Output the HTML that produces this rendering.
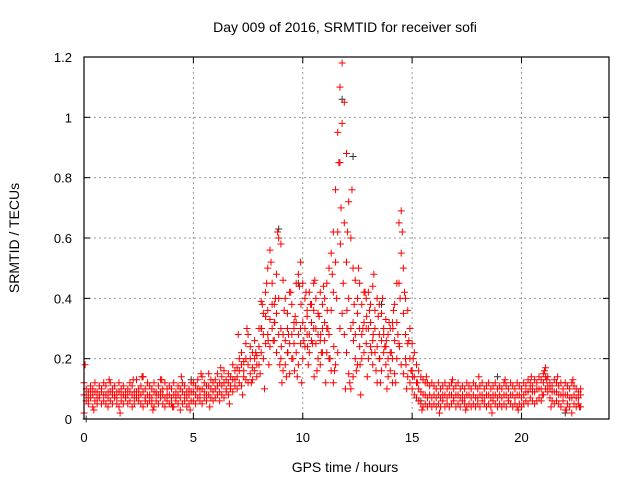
<!DOCTYPE html>
<html><head><meta charset="utf-8"><style>
html,body{margin:0;padding:0;background:#fff}
svg{display:block;font-family:"Liberation Sans",sans-serif}
</style></head><body>
<svg id="chart" width="640" height="480">
<text x="345" y="32" font-size="14" text-anchor="middle">Day 009 of 2016, SRMTID for receiver sofi</text>
<text x="345" y="472" font-size="14" text-anchor="middle">GPS time / hours</text>
<text transform="translate(19,238) rotate(-90)" font-size="14" text-anchor="middle">SRMTID / TECUs</text>
<g id="grid"></g><g id="ticks"></g><g id="marks"></g>
<rect x="84" y="57" width="525" height="362" fill="none" stroke="#000" stroke-width="1.2"/>
</svg>
<script>
const xTicks=[0,5,10,15,20];
const yTicks=[0,0.2,0.4,0.6,0.8,1,1.2];
const yTickLabels=["0","0.2","0.4","0.6","0.8","1","1.2"];
const tStep=0.1;
const upperValues=[
0.12,0.10,0.09,0.11,0.10,0.12,0.09,0.11,0.10,0.12,
0.11,0.09,0.12,0.10,0.11,0.09,0.12,0.10,0.11,0.09,
0.10,0.12,0.11,0.09,0.13,0.10,0.11,0.14,0.10,0.12,
0.11,0.10,0.12,0.09,0.11,0.13,0.10,0.12,0.10,0.11,
0.10,0.12,0.09,0.11,0.10,0.12,0.11,0.09,0.10,0.12,
0.12,0.11,0.13,0.10,0.14,0.12,0.11,0.15,0.13,0.12,
0.13,0.15,0.12,0.14,0.16,0.13,0.15,0.14,0.18,0.16,
0.17,0.20,0.22,0.19,0.25,0.28,0.24,0.22,0.26,0.21,
0.30,0.39,0.35,0.42,0.50,0.56,0.45,0.38,0.48,0.60,
0.58,0.46,0.40,0.35,0.42,0.38,0.32,0.45,0.48,0.52,
0.45,0.40,0.36,0.42,0.38,0.45,0.40,0.35,0.42,0.38,
0.40,0.45,0.50,0.55,0.62,0.76,0.95,1.10,1.18,1.05,
0.88,0.72,0.60,0.50,0.46,0.40,0.45,0.38,0.42,0.40,
0.42,0.38,0.44,0.36,0.40,0.38,0.35,0.30,0.33,0.28,
0.30,0.32,0.38,0.45,0.65,0.69,0.50,0.40,0.36,0.30,
0.25,0.22,0.18,0.16,0.14,0.13,0.12,0.12,0.11,0.12,
0.11,0.10,0.12,0.10,0.11,0.12,0.10,0.11,0.12,0.10,
0.11,0.12,0.10,0.11,0.10,0.12,0.11,0.10,0.12,0.11,
0.10,0.11,0.12,0.10,0.11,0.12,0.10,0.11,0.12,0.10,
0.11,0.10,0.12,0.11,0.10,0.12,0.11,0.10,0.12,0.11,
0.10,0.12,0.11,0.13,0.12,0.11,0.13,0.12,0.14,0.13,
0.15,0.17,0.14,0.12,0.11,0.13,0.12,0.11,0.12,0.10,
0.12,0.11,0.10,0.12,0.11,0.10,0.09,0.10];
const middleValues=[
0.08,0.08,0.07,0.09,0.08,0.09,0.07,0.08,0.09,0.08,
0.08,0.07,0.09,0.08,0.08,0.07,0.09,0.08,0.08,0.07,
0.08,0.09,0.08,0.07,0.09,0.08,0.08,0.09,0.07,0.08,
0.08,0.07,0.09,0.08,0.08,0.09,0.08,0.07,0.08,0.08,
0.07,0.08,0.07,0.08,0.07,0.09,0.08,0.07,0.08,0.09,
0.09,0.08,0.10,0.08,0.10,0.09,0.08,0.11,0.10,0.09,
0.10,0.11,0.09,0.11,0.12,0.10,0.12,0.11,0.13,0.13,
0.14,0.16,0.18,0.16,0.20,0.18,0.20,0.17,0.20,0.18,
0.24,0.30,0.28,0.34,0.36,0.33,0.38,0.32,0.35,0.40,
0.30,0.28,0.26,0.30,0.25,0.28,0.30,0.32,0.28,0.30,
0.32,0.30,0.34,0.28,0.32,0.36,0.30,0.28,0.26,0.30,
0.32,0.30,0.28,0.36,0.42,0.52,0.62,0.85,0.98,0.65,
0.52,0.40,0.30,0.32,0.28,0.35,0.30,0.28,0.32,0.30,
0.30,0.32,0.26,0.30,0.24,0.28,0.26,0.28,0.24,0.20,
0.22,0.20,0.26,0.32,0.45,0.55,0.35,0.28,0.25,0.20,
0.16,0.14,0.12,0.10,0.09,0.08,0.08,0.07,0.08,0.07,
0.08,0.07,0.08,0.07,0.08,0.08,0.07,0.08,0.08,0.07,
0.08,0.08,0.07,0.08,0.07,0.08,0.08,0.07,0.08,0.07,
0.07,0.08,0.08,0.07,0.08,0.08,0.07,0.08,0.08,0.07,
0.08,0.07,0.08,0.08,0.07,0.08,0.08,0.07,0.08,0.08,
0.07,0.08,0.09,0.09,0.10,0.09,0.09,0.10,0.10,0.10,
0.12,0.14,0.11,0.10,0.09,0.09,0.09,0.08,0.08,0.08,
0.08,0.08,0.07,0.07,0.08,0.07,0.07,0.08];
const lowerValues=[
0.02,0.06,0.05,0.07,0.04,0.06,0.05,0.07,0.05,0.06,
0.05,0.04,0.06,0.05,0.07,0.05,0.04,0.06,0.05,0.07,
0.05,0.06,0.04,0.05,0.07,0.06,0.05,0.04,0.06,0.05,
0.06,0.05,0.04,0.06,0.05,0.07,0.05,0.04,0.06,0.05,
0.05,0.04,0.06,0.05,0.03,0.05,0.06,0.04,0.05,0.06,
0.06,0.05,0.07,0.06,0.05,0.07,0.06,0.08,0.07,0.06,
0.07,0.08,0.06,0.08,0.07,0.09,0.08,0.10,0.09,0.11,
0.10,0.12,0.11,0.14,0.13,0.12,0.15,0.13,0.16,0.14,
0.18,0.22,0.20,0.25,0.28,0.24,0.30,0.26,0.22,0.28,
0.20,0.16,0.18,0.22,0.15,0.20,0.25,0.22,0.18,0.25,
0.20,0.24,0.28,0.22,0.26,0.30,0.25,0.20,0.18,0.22,
0.26,0.22,0.20,0.16,0.12,0.18,0.22,0.30,0.35,0.28,
0.22,0.15,0.10,0.14,0.20,0.18,0.24,0.20,0.22,0.25,
0.20,0.24,0.18,0.22,0.12,0.20,0.16,0.22,0.18,0.14,
0.16,0.12,0.15,0.20,0.25,0.18,0.15,0.20,0.14,0.12,
0.10,0.08,0.07,0.06,0.05,0.04,0.05,0.04,0.05,0.04,
0.05,0.04,0.05,0.04,0.06,0.04,0.05,0.04,0.05,0.06,
0.04,0.05,0.04,0.06,0.05,0.04,0.05,0.04,0.05,0.04,
0.05,0.04,0.06,0.05,0.04,0.05,0.04,0.06,0.05,0.04,
0.05,0.04,0.05,0.04,0.06,0.05,0.04,0.05,0.04,0.05,
0.04,0.05,0.06,0.05,0.07,0.06,0.05,0.06,0.07,0.06,
0.08,0.10,0.09,0.07,0.06,0.05,0.06,0.05,0.04,0.06,
0.03,0.05,0.04,0.02,0.05,0.04,0.05,0.04];
const scatterTimes=[
0.05,0.45,1.15,1.65,2.25,2.65,3.15,3.55,4.05,4.45,4.85,5.35,5.75,6.25,6.65,7.05,7.25,7.45,7.65,7.85,
8.05,8.15,8.25,8.35,8.45,8.55,8.65,8.75,8.85,8.95,9.05,9.15,9.25,9.35,9.45,9.55,9.65,9.75,9.85,9.95,
10.05,10.15,10.25,10.35,10.45,10.55,10.65,10.75,10.85,10.95,11.05,11.15,11.25,11.35,11.45,11.55,11.65,11.75,11.85,11.95,
12.05,12.15,12.25,12.35,12.45,12.55,12.65,12.75,12.85,12.95,13.05,13.15,13.25,13.35,13.45,13.55,13.65,13.75,13.85,13.95,
14.05,14.15,14.25,14.35,14.45,14.55,14.65,14.75,14.85,14.95,15.05,15.25,15.45,15.65,16.25,16.85,17.45,18.05,18.65,19.25,
19.85,20.45,20.95,21.05,21.15,21.35,21.65,22.05,22.35,22.65,
8.12,8.42,8.72,9.02,9.32,9.62,9.92,10.22,10.52,10.82,11.12,11.42,11.72,12.02,12.32,12.62,12.92,13.22,13.52,13.82,14.12,14.42,14.72,15.02];
const scatterValues=[
0.18,0.03,0.13,0.02,0.13,0.14,0.03,0.13,0.04,0.14,0.03,0.15,0.04,0.17,0.05,0.28,0.08,0.30,0.12,0.22,
0.15,0.38,0.10,0.45,0.18,0.52,0.26,0.40,0.62,0.18,0.12,0.36,0.14,0.28,0.42,0.20,0.34,0.14,0.44,0.12,
0.26,0.42,0.18,0.38,0.25,0.46,0.16,0.34,0.22,0.44,0.12,0.30,0.20,0.48,0.16,0.40,0.85,0.70,0.45,0.10,
0.62,0.12,0.76,0.38,0.16,0.50,0.08,0.30,0.42,0.14,0.36,0.22,0.48,0.16,0.34,0.12,0.40,0.24,0.10,0.32,
0.22,0.36,0.12,0.28,0.40,0.62,0.42,0.10,0.26,0.16,0.20,0.12,0.03,0.14,0.02,0.13,0.03,0.14,0.02,0.13,
0.03,0.14,0.08,0.16,0.13,0.04,0.14,0.03,0.13,0.04,
0.30,0.26,0.32,0.24,0.22,0.16,0.38,0.24,0.14,0.28,0.36,0.24,0.58,0.36,0.26,0.18,0.34,0.28,0.20,0.26,0.30,0.24,0.18,0.14];
const grayTimes=[0.1,2.7,4.9,8.9,9.8,11.8,12.3,13.6,15.4,18.9,22.0];
const grayValues=[0.00,0.14,0.13,0.63,0.45,1.06,0.87,0.38,0.06,0.14,0.02];

const NS="http://www.w3.org/2000/svg";
const X0=84,X1=609,Y0=419,Y1=57,XMAX=24,YMAX=1.2;
function xs(t){return X0+t/XMAX*(X1-X0);}
function ys(v){return Y0-v/YMAX*(Y0-Y1);}
function mk(tag,attrs,parent){const e=document.createElementNS(NS,tag);for(const k in attrs)e.setAttribute(k,attrs[k]);parent.appendChild(e);return e;}
const grid=document.getElementById('grid'),ticks=document.getElementById('ticks'),marks=document.getElementById('marks');
xTicks.forEach(t=>{
  const x=xs(t);
  if(t>0){const g=mk('line',{x1:x,x2:x,y1:Y1,y2:Y0,stroke:'#999','stroke-dasharray':'2,3'},grid);
  
  }
  mk('line',{x1:x,x2:x,y1:Y0,y2:Y0-6,stroke:'#000'},ticks);
  mk('line',{x1:x,x2:x,y1:Y1,y2:Y1+6,stroke:'#000'},ticks);
  const l=mk('text',{x:x,y:442,'font-size':13,'text-anchor':'middle'},ticks);l.textContent=t;
  
  
});
yTicks.forEach((v,i)=>{
  const y=ys(v);
  if(v>0&&v<1.2){const g=mk('line',{x1:X0,x2:X1,y1:y,y2:y,stroke:'#999','stroke-dasharray':'2,3'},grid);
  
  }
  mk('line',{x1:X0,x2:X0+6,y1:y,y2:y,stroke:'#000'},ticks);
  mk('line',{x1:X1,x2:X1-6,y1:y,y2:y,stroke:'#000'},ticks);
  const l=mk('text',{x:72,y:y+5,'font-size':13,'text-anchor':'end'},ticks);l.textContent=yTickLabels[i];
  
  
});
function plus(t,v,color){
  const x=xs(t),y=ys(v);
  const p=mk('path',{d:`M${x-3.5},${y}h7M${x},${y-3.5}v7`,stroke:color,'stroke-width':1,fill:'none'},marks);
  
  
}
grayTimes.forEach((t,i)=>plus(t,grayValues[i],'#333'));
[upperValues,middleValues,lowerValues].forEach(arr=>arr.forEach((v,i)=>plus(i*tStep,v,'#f00')));
scatterTimes.forEach((t,i)=>plus(t,scatterValues[i],'#f00'));
</script>
</body></html>
